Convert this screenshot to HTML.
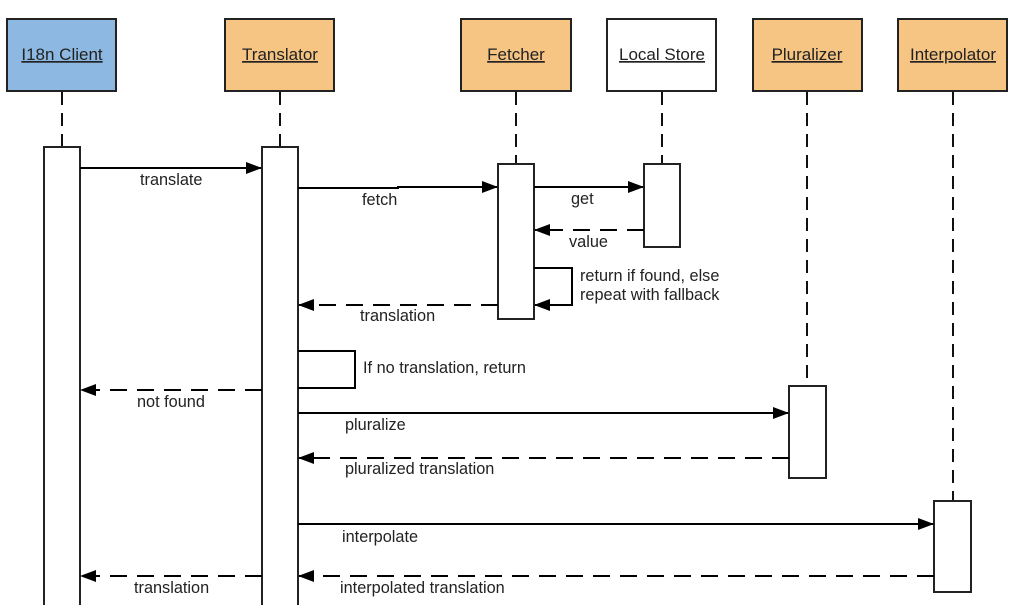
<!DOCTYPE html>
<html><head><meta charset="utf-8"><style>
html,body{margin:0;padding:0;background:#fff;}
svg{display:block;}
text{font-family:"Liberation Sans",sans-serif;font-size:16.3px;fill:#222;}
text.h{font-size:17px;}
</style></head><body>
<svg width="1024" height="605" viewBox="0 0 1024 605" xmlns="http://www.w3.org/2000/svg">
<defs>
<marker id="a" markerWidth="16" markerHeight="12" refX="15" refY="6" orient="auto" markerUnits="userSpaceOnUse">
<path d="M0,0 L16,6 L0,12 Z" fill="#000"/></marker>
</defs>
<g stroke="#111" stroke-width="2" stroke-dasharray="13,8" fill="none">
<line x1="62" y1="92" x2="62" y2="147"/>
<line x1="280" y1="92" x2="280" y2="147"/>
<line x1="516" y1="92" x2="516" y2="164"/>
<line x1="662" y1="92" x2="662" y2="164"/>
<line x1="807" y1="92" x2="807" y2="386"/>
<line x1="953" y1="92" x2="953" y2="501"/>
</g>
<g stroke="#222" stroke-width="2">
<rect x="7" y="19" width="109" height="72" fill="#8db8e2"/>
<rect x="225" y="19" width="109" height="72" fill="#f6c584"/>
<rect x="461" y="19" width="110" height="72" fill="#f6c584"/>
<rect x="607" y="19" width="109" height="72" fill="#fff"/>
<rect x="753" y="19" width="109" height="72" fill="#f6c584"/>
<rect x="898" y="19" width="109" height="72" fill="#f6c584"/>
</g>
<g text-anchor="middle">
<text class="h" x="62" y="60" text-decoration="underline">I18n Client</text>
<text class="h" x="280" y="60" text-decoration="underline">Translator</text>
<text class="h" x="516" y="60" text-decoration="underline">Fetcher</text>
<text class="h" x="662" y="60" text-decoration="underline">Local Store</text>
<text class="h" x="807" y="60" text-decoration="underline">Pluralizer</text>
<text class="h" x="953" y="60" text-decoration="underline">Interpolator</text>
</g>
<g stroke="#222" stroke-width="2" fill="#fff">
<rect x="44" y="147" width="36" height="470"/>
<rect x="262" y="147" width="36" height="470"/>
<rect x="498" y="164" width="36" height="155"/>
<rect x="644" y="164" width="36" height="83"/>
<rect x="789" y="386" width="37" height="92"/>
<rect x="934" y="501" width="37" height="91"/>
</g>
<g stroke="#000" stroke-width="2" fill="none">
<line x1="80" y1="168" x2="261" y2="168" marker-end="url(#a)"/>
<polyline points="298,188 398,188 398,187 497,187" marker-end="url(#a)"/>
<line x1="534" y1="187" x2="643" y2="187" marker-end="url(#a)"/>
<polyline points="534,268 572,268 572,305 535,305" marker-end="url(#a)"/>
<polyline points="298,351 355,351 355,388 298,388"/>
<line x1="298" y1="413" x2="788" y2="413" marker-end="url(#a)"/>
<line x1="298" y1="524" x2="933" y2="524" marker-end="url(#a)"/>
</g>
<g stroke="#000" stroke-width="2" fill="none" stroke-dasharray="17,10">
<line x1="644" y1="230" x2="535" y2="230" marker-end="url(#a)"/>
<line x1="498" y1="305" x2="299" y2="305" marker-end="url(#a)"/>
<line x1="262" y1="390" x2="81" y2="390" marker-end="url(#a)"/>
<line x1="789" y1="458" x2="299" y2="458" marker-end="url(#a)"/>
<line x1="934" y1="576" x2="299" y2="576" marker-end="url(#a)"/>
<line x1="262" y1="576" x2="81" y2="576" marker-end="url(#a)"/>
</g>
<text x="140" y="185">translate</text>
<text x="362" y="205">fetch</text>
<text x="571" y="204">get</text>
<text x="569" y="247">value</text>
<text x="580" y="281">return if found, else</text>
<text x="580" y="300">repeat with fallback</text>
<text x="360" y="321">translation</text>
<text x="363" y="373">If no translation, return</text>
<text x="137" y="407">not found</text>
<text x="345" y="430">pluralize</text>
<text x="345" y="474">pluralized translation</text>
<text x="342" y="542">interpolate</text>
<text x="340" y="593">interpolated translation</text>
<text x="134" y="593">translation</text>
</svg>
</body></html>
